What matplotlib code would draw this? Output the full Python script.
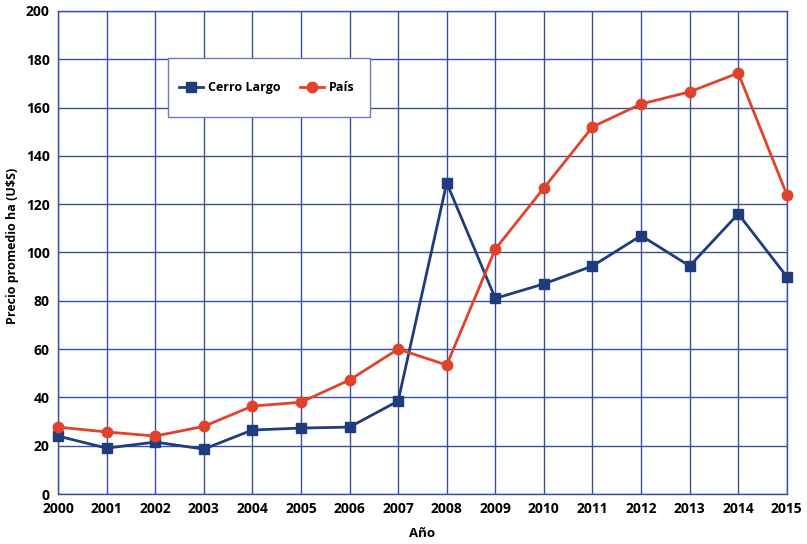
import matplotlib
matplotlib.use('Agg')
import matplotlib.pyplot as plt
from matplotlib.patches import Rectangle

plt.rcParams['font.family'] = ['Open Sans', 'DejaVu Sans']

years = [2000, 2001, 2002, 2003, 2004, 2005, 2006, 2007,
         2008, 2009, 2010, 2011, 2012, 2013, 2014, 2015]
cerro_largo = [24, 19, 21.5, 18.6, 26.5, 27.3, 27.7, 38.5,
               128.8, 81, 87, 94.4, 107, 94.4, 116, 90]
pais = [27.7, 25.7, 24, 28, 36.4, 38, 47.2, 60,
        53.4, 101.4, 126.7, 152, 161.5, 166.5, 174.3, 124]

grid_col = '#3b4f9e'
navy = '#1f3d7d'
red = '#e2412b'

fig = plt.figure(figsize=(8.07, 5.44), dpi=100)
ax = fig.add_axes([0.0719, 0.0919, 0.9031, 0.8879])

ax.plot(years, cerro_largo, color=navy, lw=2, marker='s', ms=7,
        label='Cerro Largo', zorder=3, clip_on=False)
ax.plot(years, pais, color=red, lw=2, marker='o', ms=7.5,
        label='País', zorder=3, clip_on=False)

ax.set_xlim(2000, 2015)
ax.set_ylim(0, 200)
ax.set_xticks(years)
ax.set_yticks(range(0, 201, 20))
ax.grid(True, color=grid_col, lw=1)
ax.set_axisbelow(True)
for s in ax.spines.values():
    s.set_color(grid_col)
    s.set_linewidth(1)
ax.tick_params(length=0, pad=6, labelsize=10)
for lab in ax.get_xticklabels() + ax.get_yticklabels():
    lab.set_fontweight('bold')

ax.set_xlabel('Año', fontsize=9.5, fontweight='bold', labelpad=8)
ax.set_ylabel('Precio promedio ha (U$S)', fontsize=9, fontweight='bold')
ax.yaxis.set_label_coords(-0.0535, 0.513)

# legend box drawn separately
box = Rectangle((0.151, 0.78), 0.277, 0.123, transform=ax.transAxes,
                facecolor='white', edgecolor='#6f7cb8', lw=1, zorder=4)
ax.add_patch(box)
leg = ax.legend(loc='center left', bbox_to_anchor=(0.151 + 11 / 729, 0.8415),
                ncol=2, frameon=False, borderaxespad=0, borderpad=0,
                handlelength=1.9, handletextpad=0.45, columnspacing=1.5,
                prop={'weight': 'bold', 'size': 9})
leg.set_zorder(5)

plt.savefig('out.png', dpi=100)
